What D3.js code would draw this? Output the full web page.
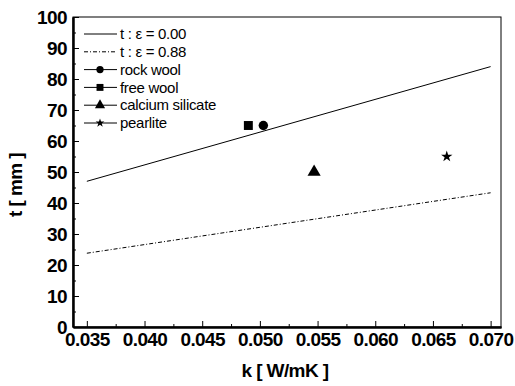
<!DOCTYPE html>
<html>
<head>
<meta charset="utf-8">
<script src="https://cdn.jsdelivr.net/npm/d3@7"></script>
<style>
  body { margin: 0; background: #fff; }
  text { font-family: "Liberation Sans", Arial, sans-serif; fill: #000; }
</style>
</head>
<body>
<svg id="chart" width="515" height="386"></svg>
<script>
// data
var lineK = [0.035, 0.070];
var tEps0 = [47.0, 84.0];    // t : eps = 0.00
var tEps88 = [23.8, 43.3];   // t : eps = 0.88

var materials = ["rock wool", "free wool", "calcium silicate", "pearlite"];
var matK = [0.0503, 0.0490, 0.0547, 0.0662];
var matT = [65, 65, 50, 55];
var matSymbol = [d3.symbolCircle, d3.symbolSquare, d3.symbolTriangle, d3.symbolStar];

var xTicks = [0.035, 0.040, 0.045, 0.050, 0.055, 0.060, 0.065, 0.070];
var yTicks = [0, 10, 20, 30, 40, 50, 60, 70, 80, 90, 100];

var svg = d3.select("#chart");
var plotL = 73, plotR = 501, plotT = 17, plotB = 327;

var x = d3.scaleLinear().domain([0.0338, 0.0709]).range([plotL, plotR]);
var y = d3.scaleLinear().domain([0, 100]).range([plotB, plotT]);

// frame
svg.append("rect")
    .attr("x", plotL).attr("y", plotT)
    .attr("width", plotR - plotL).attr("height", plotB - plotT)
    .attr("fill", "none").attr("stroke", "#000").attr("stroke-width", 1);

// axes, ticks pointing inward
var xAxis = svg.append("g").attr("transform", "translate(0," + plotB + ")")
    .call(d3.axisBottom(x).tickValues(xTicks).tickFormat(d3.format(".3f"))
        .tickSizeInner(-6).tickSizeOuter(0).tickPadding(11));
svg.append("g").attr("transform", "translate(0," + plotB + ")")
    .call(d3.axisBottom(x).tickValues(xTicks.slice(0, -1).map(function(d) { return d + 0.0025; }))
        .tickFormat("").tickSizeInner(-3).tickSizeOuter(0));

svg.append("g").attr("transform", "translate(" + plotL + ",0)")
    .call(d3.axisLeft(y).tickValues(yTicks)
        .tickSizeInner(-6).tickSizeOuter(0).tickPadding(6));
svg.append("g").attr("transform", "translate(" + plotL + ",0)")
    .call(d3.axisLeft(y).tickValues(yTicks.slice(0, -1).map(function(d) { return d + 5; }))
        .tickFormat("").tickSizeInner(-3).tickSizeOuter(0));

svg.selectAll(".domain").attr("stroke", "#000").attr("stroke-width", 2);
svg.selectAll(".tick line").attr("stroke", "#000").attr("stroke-width", 1);
svg.selectAll(".tick text")
    .style("font-family", "'Liberation Sans', Arial, sans-serif")
    .style("font-size", "19px").style("font-weight", "bold")
    .style("letter-spacing", "-0.6px");
xAxis.selectAll(".tick text").attr("dy", "0.71em").attr("y", 6);

// axis titles
svg.append("text").attr("x", 285).attr("y", 377).attr("text-anchor", "middle")
    .style("font-size", "19px").style("font-weight", "bold").style("letter-spacing", "-0.6px")
    .text("k [ W/mK ]");
svg.append("text").attr("transform", "translate(22,185) rotate(-90)").attr("text-anchor", "middle")
    .style("font-size", "19px").style("font-weight", "bold").style("letter-spacing", "-0.6px")
    .text("t [ mm ]");

// lines
var line = d3.line().x(function(d) { return x(d[0]); }).y(function(d) { return y(d[1]); });
svg.append("path").attr("d", line(d3.zip(lineK, tEps0)))
    .attr("fill", "none").attr("stroke", "#000").attr("stroke-width", 1);
svg.append("path").attr("d", line(d3.zip(lineK, tEps88)))
    .attr("fill", "none").attr("stroke", "#000").attr("stroke-width", 1)
    .attr("stroke-dasharray", "4,2,1,2");

// points
var symSize = [70, 80, 75, 40];
svg.selectAll(".pt").data(materials).enter().append("path")
    .attr("class", "pt")
    .attr("transform", function(d, i) { return "translate(" + x(matK[i]) + "," + y(matT[i]) + ")"; })
    .attr("d", function(d, i) { return d3.symbol().type(matSymbol[i]).size(symSize[i])(); })
    .attr("fill", "#000");

// legend
var legend = svg.append("g");
var rows = ["t : \u03b5 = 0.00", "t : \u03b5 = 0.88"].concat(materials);
var rowY = d3.scaleLinear().domain([0, 5]).range([34, 123]);
rows.forEach(function(label, i) {
    var ly = rowY(i);
    var l = legend.append("line").attr("x1", 84).attr("x2", 117).attr("y1", ly).attr("y2", ly)
        .attr("stroke", "#000").attr("stroke-width", 1);
    if (i == 1) l.attr("stroke-dasharray", "4,2,1,2");
    if (i >= 2) {
        legend.append("path").attr("transform", "translate(100," + ly + ")")
            .attr("d", d3.symbol().type(matSymbol[i - 2]).size(symSize[i - 2] * 0.6)())
            .attr("fill", "#000");
    }
    legend.append("text").attr("x", 120).attr("y", ly).attr("dy", "0.35em")
        .style("font-size", "15px").style("letter-spacing", "-0.3px").text(label);
});
</script>
</body>
</html>
